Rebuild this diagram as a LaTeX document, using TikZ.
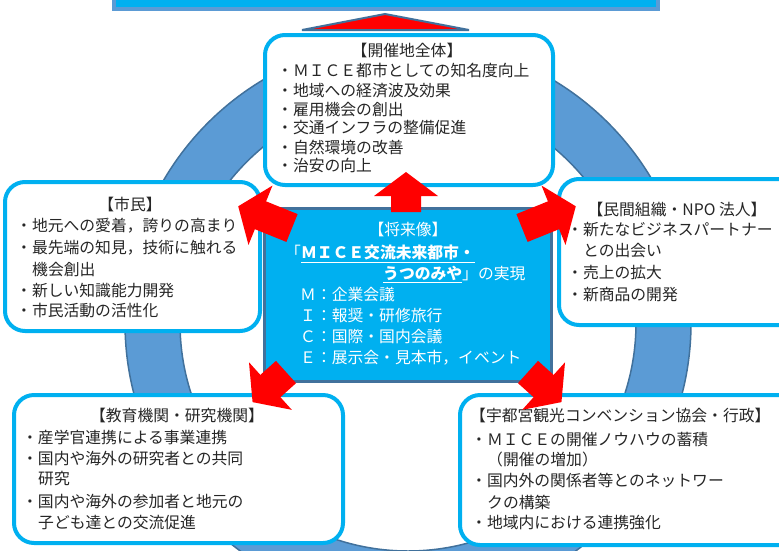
\documentclass[tikz,border=0pt]{standalone}
\usepackage{fontspec}
\setmainfont{Noto Sans CJK JP}
\definecolor{boxcyan}{HTML}{00B0F0}
\definecolor{ringfill}{HTML}{5B9BD5}
\definecolor{ringedge}{HTML}{41719C}
\definecolor{txtcol}{HTML}{262626}
\definecolor{arrowred}{HTML}{FF0000}
\newcommand{\barrow}[4]{%
  \begin{scope}[shift={(#1,#2)}, rotate=#3]
    \fill[arrowred] (0,-15) -- (#4-24,-15) -- (#4-24,-32) -- (#4,0) -- (#4-24,32) -- (#4-24,15) -- (0,15) -- cycle;
  \end{scope}}
\begin{document}
\begin{tikzpicture}[x=1pt,y=-1pt,
  roundbox/.style={draw=boxcyan, line width=4pt, fill=white, rounded corners=20pt, inner sep=0pt},
  txt/.style={anchor=west, inner sep=0pt, text height=0.88em, text depth=0.12em, font=\fontsize{15.8}{18}\selectfont, text=txtcol},
  hdr/.style={txt, anchor=center},
  wtxt/.style={txt, text=white}]
\useasboundingbox (0,0) rectangle (779,550);
% ring
\fill[ringfill, even odd rule] (408,323) circle[radius=283] (408,323) circle[radius=228];
\draw[ringedge, line width=1.5pt] (408,323) circle[radius=283];
\draw[ringedge, line width=1.5pt] (408,323) circle[radius=228];
% top bar and triangle
\draw[ringfill, fill=boxcyan, line width=3.5pt] (114,-10) rectangle (658,9);
\draw[ringedge, fill=arrowred, line width=2pt, line join=miter] (385,14) -- (469,30) -- (302,30) -- cycle;
% boxes
\node[roundbox, minimum width=288pt, minimum height=150pt] (topbox) at (409,110) {};
\node[roundbox, minimum width=255pt, minimum height=149pt] (leftbox) at (132.5,256.5) {};
\node[roundbox, minimum width=241pt, minimum height=146pt] (rightbox) at (679.5,252) {};
\node[roundbox, minimum width=329pt, minimum height=148pt] (blbox) at (178.5,469) {};
\node[roundbox, minimum width=340pt, minimum height=150pt] (brbox) at (630,470) {};
\node[draw=ringedge, fill=boxcyan, line width=2.5pt, minimum width=287pt, minimum height=173pt, inner sep=0pt] (center) at (408,295) {};
% top box text
\node[hdr] (t0) at (407,53) {【開催地全体】};
\node[txt] (t1) at (277,73) {・ＭＩＣＥ都市としての知名度向上};
\node[txt] (t2) at (277,93) {・地域への経済波及効果};
\node[txt] (t3) at (277,112) {・雇用機会の創出};
\node[txt] (t4) at (277,130) {・交通インフラの整備促進};
\node[txt] (t5) at (277,150) {・自然環境の改善};
\node[txt] (t6) at (277,168) {・治安の向上};
% left box text
\node[hdr] (l0) at (130,207) {【市民】};
\node[txt] (l1) at (16,228) {・地元への愛着，誇りの高まり};
\node[txt] (l2) at (16,250) {・最先端の知見，技術に触れる};
\node[txt] (l3) at (32,272) {機会創出};
\node[txt] (l4) at (16,293) {・新しい知識能力開発};
\node[txt] (l5) at (16,313) {・市民活動の活性化};
% right box text
\node[hdr] (r0) at (677,212) {【民間組織・NPO 法人】};
\node[txt] (r1) at (567,232) {・新たなビジネスパートナー};
\node[txt] (r2) at (583,253) {との出会い};
\node[txt] (r3) at (567,275) {・売上の拡大};
\node[txt] (r4) at (567,297) {・新商品の開発};
% bottom-left text
\node[hdr] (b0) at (177,418) {【教育機関・研究機関】};
\node[txt] (b1) at (22,440) {・産学官連携による事業連携};
\node[txt] (b2) at (22,461) {・国内や海外の研究者との共同};
\node[txt] (b3) at (38,481) {研究};
\node[txt] (b4) at (22,504) {・国内や海外の参加者と地元の};
\node[txt] (b5) at (38,525) {子ども達との交流促進};
% bottom-right text
\node[txt] (c0) at (470,418) {【宇都宮観光コンベンション協会・行政】};
\node[txt] (c1) at (471,442) {・ＭＩＣＥの開催ノウハウの蓄積};
\node[txt] (c2) at (487,462) {（開催の増加）};
\node[txt] (c3) at (471,483) {・国内外の関係者等とのネットワー};
\node[txt] (c4) at (487,505) {クの構築};
\node[txt] (c5) at (471,525) {・地域内における連携強化};
% centre text
\node[wtxt, anchor=center] (m0) at (408,232) {【将来像】};
\node[wtxt] (m1) at (285,255) {「\underline{\bfseries ＭＩＣＥ交流未来都市・}};
\node[wtxt] (m2) at (383,276) {\underline{\bfseries うつのみや}」の実現};
\node[wtxt] (m3) at (300,297) {Ｍ：企業会議};
\node[wtxt] (m4) at (300,318) {Ｉ：報奨・研修旅行};
\node[wtxt] (m5) at (300,339) {Ｃ：国際・国内会議};
\node[wtxt] (m6) at (300,360) {Ｅ：展示会・見本市，イベント};
% arrows
\barrow{406}{212}{90}{40}
\barrow{292}{228}{158}{58}
\barrow{522}{228}{22}{58}
\barrow{286}{372}{222}{45}
\barrow{528}{372}{318}{45}
\end{tikzpicture}
\end{document}
